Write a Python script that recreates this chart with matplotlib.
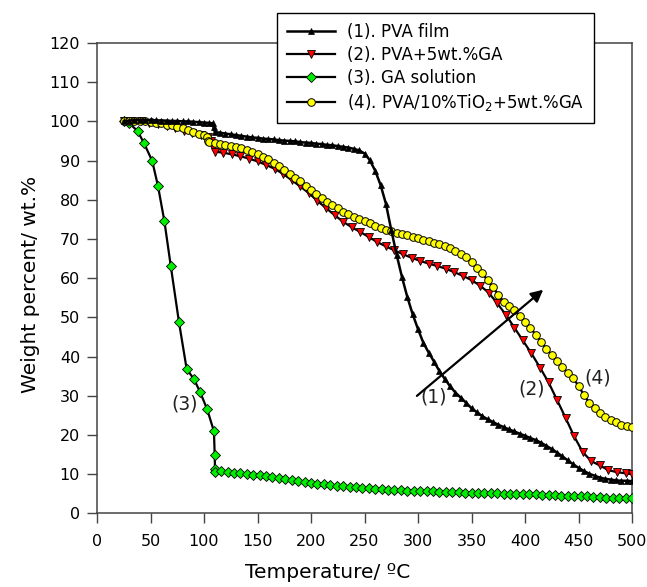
import matplotlib
matplotlib.use("Agg")
import matplotlib.pyplot as plt

plt.rcParams['font.family'] = ['DejaVu Sans']

# ---------------- data ----------------
pva_x = [25, 30, 35, 40, 45, 50, 55, 60, 65, 70, 75, 80, 85, 90, 95, 100, 105, 108, 109, 110,
         115, 120, 125, 130, 135, 140, 145, 150, 155, 160, 165, 170, 175, 180, 185, 190, 195, 200,
         205, 210, 215, 220, 225, 230, 235, 240, 245, 250, 255, 260, 265, 270, 275, 280, 285, 290,
         295, 300, 305, 310, 315, 320, 325, 330, 335, 340, 345, 350, 355, 360, 365, 370, 375, 380,
         385, 390, 395, 400, 405, 410, 415, 420, 425, 430, 435, 440, 445, 450, 455, 460, 465, 470,
         475, 480, 485, 490, 495, 500]
pva_y = [100.0, 100.2, 100.3, 100.3, 100.3, 100.3, 100.3, 100.2, 100.2, 100.1, 100.1, 100.0, 100.0,
         99.9, 99.8, 99.7, 99.6, 99.5, 98.5, 97.3,
         97.1, 96.9, 96.7, 96.5, 96.3, 96.1, 95.9, 95.8, 95.6, 95.5, 95.4, 95.2, 95.1, 95.0, 94.9,
         94.7, 94.6, 94.5, 94.3, 94.2, 94.0, 93.9, 93.7, 93.5, 93.3, 93.0, 92.6, 91.8, 90.1, 87.4,
         83.8, 79.0, 72.3, 66.0, 60.3, 55.2, 50.8, 47.0, 43.5, 41.0, 38.7, 36.3, 34.3, 32.4, 30.8,
         29.5, 28.2, 26.8, 25.8, 24.8, 24.0, 23.3, 22.6, 22.0, 21.4, 20.9, 20.3, 19.8, 19.2, 18.7,
         18.0, 17.2, 16.4, 15.5, 14.5, 13.5, 12.5, 11.6, 10.8, 10.1, 9.6, 9.1, 8.8, 8.6, 8.4, 8.3,
         8.3, 8.2]

ga5_x = [25, 33, 41, 49, 57, 65, 73, 81, 89, 97, 104, 107, 108, 110, 118, 126, 134, 142, 150, 158,
         166, 174, 182, 190, 198, 206, 214, 222, 230, 238, 246, 254, 262, 270, 278, 286, 294, 302,
         310, 318, 326, 334, 342, 350, 358, 366, 374, 382, 390, 398, 406, 414, 422, 430, 438, 446,
         454, 462, 470, 478, 486, 494, 500]
ga5_y = [100.0, 100.1, 100.0, 99.7, 99.3, 98.8, 98.2, 97.6, 97.0, 96.5, 96.0, 95.0, 93.5, 92.3,
         92.0, 91.6, 91.1, 90.5, 89.8, 88.9, 87.9, 86.6, 85.0, 83.4, 81.7, 79.7, 77.9, 76.1, 74.4,
         73.0, 71.8, 70.5, 69.2, 68.1, 67.1, 66.1, 65.2, 64.4, 63.7, 63.1, 62.4, 61.5, 60.6, 59.5,
         58.1, 56.3, 53.6, 50.7, 47.4, 44.1, 40.8, 37.2, 33.4, 28.9, 24.3, 19.6, 15.6, 13.3, 12.2,
         11.0, 10.5, 10.2, 10.0]

gas_x = [25, 30, 38, 44, 51.6, 57, 63, 69, 76.6, 83.8, 90.7, 96.4, 103, 109.3, 110, 110.3, 110.5,
         116, 122, 128, 134, 140, 146, 152, 158, 164, 170, 176, 182, 188, 194, 200, 206, 212, 218,
         224, 230, 236, 242, 248, 254, 260, 266, 272, 278, 284, 290, 296, 302, 308, 314, 320, 326,
         332, 338, 344, 350, 356, 362, 368, 374, 380, 386, 392, 398, 404, 410, 416, 422, 428, 434,
         440, 446, 452, 458, 464, 470, 476, 482, 488, 494, 500]
gas_y = [100.0, 99.6, 97.5, 94.4, 89.9, 83.5, 74.5, 63.0, 48.8, 36.8, 34.2, 30.9, 26.5, 20.9, 14.8,
         11.2, 10.6,
         10.7, 10.6, 10.4, 10.2, 10.1, 9.9, 9.7, 9.5, 9.2, 9.0, 8.7, 8.5, 8.2, 8.0, 7.8, 7.6, 7.4,
         7.2, 7.0, 6.9, 6.7, 6.6, 6.5, 6.4, 6.2, 6.1, 6.0, 6.0, 5.9, 5.8, 5.8, 5.7, 5.6, 5.6, 5.5,
         5.5, 5.4, 5.4, 5.3, 5.3, 5.2, 5.2, 5.1, 5.1, 5.0, 5.0, 5.0, 4.9, 4.9, 4.8, 4.7, 4.7, 4.6,
         4.5, 4.5, 4.4, 4.3, 4.3, 4.2, 4.1, 4.0, 4.0, 3.9, 3.8, 3.8]

tio2_x = [25, 30, 35, 40, 45, 50, 55, 60, 65, 70, 75, 80, 85, 90, 95, 100, 103, 104, 105, 110,
          115, 120, 125, 130, 135, 140, 145, 150, 155, 160, 165, 170, 175, 180, 185, 190, 195, 200,
          205, 210, 215, 220, 225, 230, 235, 240, 245, 250, 255, 260, 265, 270, 275, 280, 285, 290,
          295, 300, 305, 310, 315, 320, 325, 330, 335, 340, 345, 350, 355, 360, 365, 370, 375, 380,
          385, 390, 395, 400, 405, 410, 415, 420, 425, 430, 435, 440, 445, 450, 455, 460, 465, 470,
          475, 480, 485, 490, 495, 500]
tio2_y = [100.0, 100.1, 100.2, 100.2, 100.1, 99.9, 99.7, 99.5, 99.2, 99.0, 98.6, 98.2, 97.8, 97.4,
          96.9, 96.4, 96.0, 95.0, 94.7, 94.5,
          94.3, 94.0, 93.7, 93.5, 93.1, 92.7, 92.3, 91.7, 91.0, 90.3, 89.4, 88.5, 87.5, 86.5, 85.6,
          84.7, 83.6, 82.5, 81.4, 80.4, 79.5, 78.6, 77.8, 77.0, 76.3, 75.6, 75.0, 74.5, 74.0, 73.4,
          72.9, 72.4, 72.0, 71.6, 71.2, 70.9, 70.6, 70.2, 69.8, 69.4, 69.0, 68.6, 68.2, 67.6, 67.0,
          66.2, 65.3, 64.0, 62.6, 61.2, 59.5, 57.7, 55.8, 54.0, 52.8, 51.9, 50.4, 48.9, 47.3, 45.6,
          43.8, 42.0, 40.4, 38.8, 37.3, 35.8, 34.5, 32.5, 30.2, 28.2, 26.8, 25.6, 24.6, 23.8, 23.2,
          22.6, 22.2, 22.0]

labels = ["(1). PVA film", "(2). PVA+5wt.%GA", "(3). GA solution",
          "(4). PVA/10%TiO$_2$+5wt.%GA"]
x_ticks = [0, 50, 100, 150, 200, 250, 300, 350, 400, 450, 500]
y_ticks = [0, 10, 20, 30, 40, 50, 60, 70, 80, 90, 100, 110, 120]

# ---------------- figure ----------------
W, H = 647, 587
fig = plt.figure(figsize=(W/100, H/100), dpi=100)
ax_l, ax_r, ax_t, ax_b = 97, 632, 43, 513.3
ax = fig.add_axes([ax_l/W, 1-ax_b/H, (ax_r-ax_l)/W, (ax_b-ax_t)/H])

h1, = ax.plot(pva_x, pva_y, '-', color='black', lw=1.8, marker='^', ms=4.3,
              mfc='black', mec='black', mew=0.5, zorder=6)
h2, = ax.plot(ga5_x, ga5_y, '-', color='black', lw=1.6, marker='v', ms=5.5,
              mfc='#ff0000', mec='black', mew=0.6, zorder=3)
h3, = ax.plot(gas_x, gas_y, '-', color='black', lw=1.6, marker='D', ms=4.8,
              mfc='#00ee00', mec='black', mew=0.6, zorder=4)
h4, = ax.plot(tio2_x, tio2_y, '-', color='black', lw=1.6, marker='o', ms=5.5,
              mfc='#ffff00', mec='black', mew=0.7, zorder=5)

ax.set_xlim(0, 500)
ax.set_ylim(0, 120)
ax.set_xticks(x_ticks)
ax.set_yticks(y_ticks)
ax.tick_params(axis='both', direction='out', length=7.2, width=1, color='#444444',
               labelsize=11.5)
ax.tick_params(axis='x', pad=8)
ax.tick_params(axis='y', pad=5)
ax.tick_params(top=False, right=False)
for s in ax.spines.values():
    s.set_color('#444444')
    s.set_linewidth(1.1)

ax.set_xlabel("Temperature/ ºC", fontsize=14.5)
ax.set_ylabel("Weight percent/ wt.%", fontsize=14.5)
ax.xaxis.label.set_va('center')
ax.yaxis.label.set_va('center')
ax.xaxis.set_label_coords((328-ax_l)/(ax_r-ax_l), (ax_b-572)/(ax_b-ax_t))
ax.yaxis.set_label_coords((30-ax_l)/(ax_r-ax_l), (ax_b-284)/(ax_b-ax_t))

# annotations
ann_size = 13.5
ax.text(315, 29.6, "(1)", fontsize=ann_size, ha='center', va='center', color='#222222')
ax.text(406, 31.7, "(2)", fontsize=ann_size, ha='center', va='center', color='#222222')
ax.text(468, 34.5, "(4)", fontsize=ann_size, ha='center', va='center', color='#222222')
ax.text(82, 28, "(3)", fontsize=ann_size, ha='center', va='center', color='#222222')
ax.annotate("", xy=(419, 57.5), xytext=(297, 29.5),
            arrowprops=dict(arrowstyle='-|>', lw=1.6, color='black', mutation_scale=18),
            zorder=7)

leg = ax.legend([h1, h2, h3, h4], labels,
                loc='upper left', bbox_to_anchor=(277/W, 1-12.7/H),
                bbox_transform=fig.transFigure, borderaxespad=0, numpoints=1,
                fontsize=12, handlelength=2.9, labelspacing=0.3, fancybox=False,
                framealpha=1, edgecolor='black', borderpad=0.6, handletextpad=0.7)
leg.get_frame().set_linewidth(1.0)
leg.set_zorder(10)

fig.savefig("out.png", dpi=100)
